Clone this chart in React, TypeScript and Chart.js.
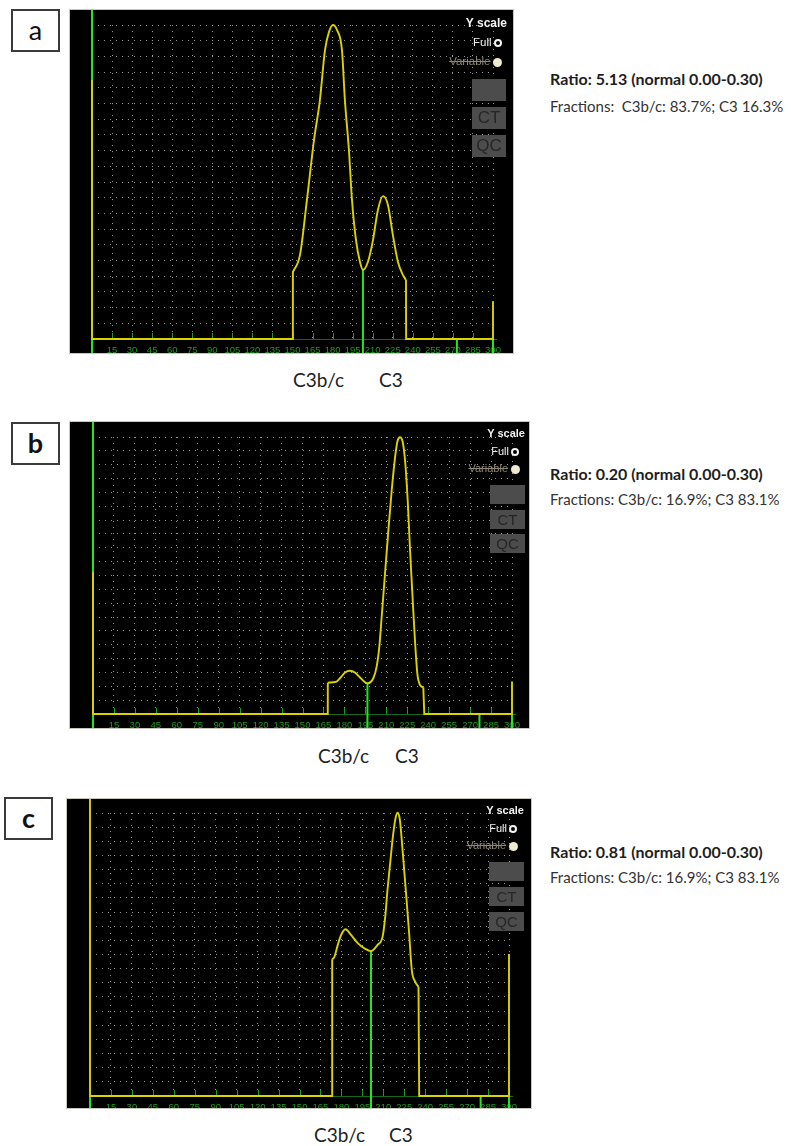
import React, { useEffect, useRef } from "react";
import { Chart, registerables } from "chart.js";

Chart.register(...registerables);

// ---------------- data ----------------
const xTickValues = [0, 15, 30, 45, 60, 75, 90, 105, 120, 135, 150, 165, 180, 195, 210, 225, 240, 255, 270, 285, 300];
const yGridValues = [0, 5, 10, 15, 20, 25, 30, 35, 40, 45, 50, 55, 60, 65, 70, 75, 80, 85, 90, 95, 100];

// panel a — smooth peak section and straight frame (spikes, baseline, steps; null = break)
const peakAX = [150.3, 155.6, 160.8, 166.1, 170.5, 174.3, 177.3, 180.3, 183.3, 187.0, 189.2, 192.2, 194.5, 197.5, 200.5, 202.7, 206.4, 210.2, 213.9, 217.7, 221.4, 225.1, 228.9, 232.6, 234.9];
const peakAY = [21.3, 26.8, 44.3, 63.4, 76.1, 92.0, 97.8, 100, 98.4, 92.0, 76.1, 60.2, 44.3, 31.5, 24.5, 22.0, 24.5, 31.5, 41.1, 45.5, 42.7, 33.1, 24.5, 20.4, 18.8];
const frameAX = [0, 0, 150, 150.3, 234.9, 234.9, 235, 300, 300];
const frameAY = [82.5, 0, 0, 21.3, null, 18.8, 0, 0, 12];
const markerAX = [0, 202.7, 273, 300];
const markerATop = [110, 22.0, 0, 0];

// panel b
const peakBX = [168.1, 174.4, 177, 180.5, 184, 187.5, 191.2, 196.5, 200.7, 203.1, 205.0, 206.7, 209.1, 211.5, 213.9, 216.2, 217.9, 219.8, 221.7, 223.4, 225.3, 227.0, 228.9, 230.5, 232.2, 234.1, 236.5];
const peakBY = [11.3, 11.7, 13.0, 15.0, 15.6, 15.0, 13.2, 11.1, 12.9, 17.1, 24.3, 35.1, 50.8, 66.4, 80.9, 92.3, 98.3, 99.9, 98.3, 91.7, 77.3, 59.2, 41.2, 26.7, 14.7, 10.5, 9.6];
const frameBX = [0, 0, 168, 168.1, 236.5, 236.5, 237.2, 300, 300];
const frameBY = [51.3, 0, 0, 11.3, null, 9.6, 0, 0, 11.7];
const markerBX = [0, 196.5, 276.7, 300];
const markerBTop = [110, 11.1, 0, 0];

// panel c
const peakCX = [173.4, 175, 177.4, 179.8, 182.9, 186.9, 191.7, 196.4, 201.2, 205.9, 209.5, 211.4, 213, 214.9, 216.6, 218.5, 220.2, 221.9, 223.8, 226.1, 228.5, 230.4, 232.8, 235.2];
const peakCY = [48.3, 49.2, 53.4, 56.9, 58.9, 56.9, 54.0, 52.2, 51.2, 53.4, 56.3, 63.4, 72.8, 82.2, 90.5, 97.5, 100.1, 97.5, 86.9, 72.8, 57.5, 44.5, 40.4, 38.6];
const frameCX = [0, 0, 173.3, 173.4, 235.2, 235.2, 235.7, 300, 300];
const frameCY = [110, 0, 0, 48.3, null, 38.6, 0, 0, 50.2];
const markerCX = [0, 201.2, 279.7, 300];
const markerCTop = [0, 51.2, 0, 0];

const panelLetters = ["a", "b", "c"];
const ratioTexts = [
  "Ratio: 5.13 (normal 0.00-0.30)",
  "Ratio: 0.20 (normal 0.00-0.30)",
  "Ratio: 0.81 (normal 0.00-0.30)",
];
const fractionTexts = [
  "Fractions:  C3b/c: 83.7%; C3 16.3%",
  "Fractions: C3b/c: 16.9%; C3 83.1%",
  "Fractions: C3b/c: 16.9%; C3 83.1%",
];
const peakLabels = ["C3b/c", "C3"];
const legendTitle = "Y scale";
const legendFull = "Full";
const legendVariable = "Variable";
const buttonLabels = ["", "CT", "QC"];

// ---------------- styles ----------------
const YELLOW = "#d9d400";
const MARKER_GREEN = "#22e622";
const TICK_GREEN = "#1f9a1f";
const AXIS_GREEN = "#136b13";
const GRID = "rgba(175,175,175,0.85)";

type Layout = {
  box: { left: number; top: number; width: number; height: number };
  pad: { left: number; right: number; top: number; bottom: number };
  letterBox: { left: number; top: number; bold: boolean };
  legend: {
    titleRight: number; titleCy: number; titleSize: number;
    fullCy: number; varCy: number; circleRight: number; itemSize: number;
    btnRight: number; btnTops: number[]; btnW: number; btnH: number; btnFont: number;
  };
  ratioCy: number;
  fracCy: number;
  peakLabelX: number[];
  peakLabelCy: number;
};

const layouts: Layout[] = [
  {
    box: { left: 70, top: 10, width: 443, height: 343 },
    pad: { left: 22, right: 20, top: 15, bottom: 14 },
    letterBox: { left: 11, top: 9, bold: false },
    legend: { titleRight: 6, titleCy: 13, titleSize: 12, fullCy: 33, varCy: 52, circleRight: 15.5, itemSize: 11.5, btnRight: 7, btnTops: [69, 97, 125], btnW: 34, btnH: 22, btnFont: 17 },
    ratioCy: 79,
    fracCy: 106,
    peakLabelX: [293, 379],
    peakLabelCy: 380,
  },
  {
    box: { left: 70, top: 422, width: 459, height: 306 },
    pad: { left: 23, right: 17, top: 15, bottom: 14 },
    letterBox: { left: 11, top: 422, bold: true },
    legend: { titleRight: 4, titleCy: 12, titleSize: 11, fullCy: 30, varCy: 47, circleRight: 14, itemSize: 11, btnRight: 4, btnTops: [63, 88, 112], btnW: 35, btnH: 19, btnFont: 15 },
    ratioCy: 474,
    fracCy: 499,
    peakLabelX: [318, 395],
    peakLabelCy: 756,
  },
  {
    box: { left: 67, top: 799, width: 464, height: 309 },
    pad: { left: 23, right: 22, top: 14, bottom: 12 },
    letterBox: { left: 4, top: 797, bold: true },
    legend: { titleRight: 7, titleCy: 12, titleSize: 11, fullCy: 30, varCy: 47, circleRight: 18, itemSize: 11, btnRight: 7, btnTops: [63, 88, 113], btnW: 35, btnH: 19, btnFont: 15 },
    ratioCy: 852,
    fracCy: 877,
    peakLabelX: [314, 389],
    peakLabelCy: 1135,
  },
];

const curves = [
  { px: peakAX, py: peakAY, fx: frameAX, fy: frameAY, mx: markerAX, mt: markerATop },
  { px: peakBX, py: peakBY, fx: frameBX, fy: frameBY, mx: markerBX, mt: markerBTop },
  { px: peakCX, py: peakCY, fx: frameCX, fy: frameCY, mx: markerCX, mt: markerCTop },
];

const epPlugin = {
  id: "ep",
  beforeDatasetsDraw(chart: any, _args: any, opts: any) {
    const { ctx } = chart;
    const xs = chart.scales.x;
    const ys = chart.scales.y;
    const base = Math.round(ys.getPixelForValue(0));
    ctx.save();
    // green axis line
    ctx.strokeStyle = AXIS_GREEN;
    ctx.lineWidth = 1;
    ctx.beginPath();
    ctx.moveTo(xs.getPixelForValue(0), base + 0.5);
    ctx.lineTo(xs.getPixelForValue(303), base + 0.5);
    ctx.stroke();
    // small tick marks above the axis
    ctx.strokeStyle = TICK_GREEN;
    ctx.beginPath();
    for (const v of xTickValues) {
      if (v === 0) continue;
      const px = Math.round(xs.getPixelForValue(v)) + 0.5;
      ctx.moveTo(px, base);
      ctx.lineTo(px, base - 6);
    }
    ctx.stroke();
    // marker lines
    ctx.strokeStyle = MARKER_GREEN;
    ctx.lineWidth = 2;
    (opts.markerX || []).forEach((mx: number, i: number) => {
      const px = xs.getPixelForValue(mx);
      ctx.beginPath();
      ctx.moveTo(px, chart.height);
      ctx.lineTo(px, ys.getPixelForValue(opts.markerTop[i]));
      ctx.stroke();
    });
    ctx.restore();
  },
};

function Panel({ idx }: { idx: number }) {
  const ref = useRef<HTMLCanvasElement | null>(null);
  const L = layouts[idx];
  const C = curves[idx];
  useEffect(() => {
    if (!ref.current) return;
    const gridColor = (c: any) => (c.tick && c.tick.value === 0 ? "rgba(0,0,0,0)" : GRID);
    const lineBase = {
      showLine: true,
      borderColor: YELLOW,
      borderWidth: 1.9,
      pointRadius: 0,
      fill: false,
      spanGaps: false,
      clip: false,
    };
    const chart = new Chart(ref.current, {
      type: "scatter",
      data: {
        datasets: [
          {
            ...lineBase,
            data: C.fx.map((x, i) => ({ x, y: C.fy[i] })),
            tension: 0,
          } as any,
          {
            ...lineBase,
            data: C.px.map((x, i) => ({ x, y: C.py[i] })),
            cubicInterpolationMode: "monotone",
          } as any,
        ],
      },
      options: {
        responsive: false,
        animation: false,
        events: [],
        layout: { padding: { left: L.pad.left, right: L.pad.right, top: L.pad.top, bottom: 0 } },
        plugins: {
          legend: { display: false },
          tooltip: { enabled: false },
          ep: { markerX: C.mx, markerTop: C.mt },
        } as any,
        scales: {
          x: {
            type: "linear",
            min: 0,
            max: 300,
            afterBuildTicks: (s: any) => {
              s.ticks = xTickValues.map((v) => ({ value: v }));
            },
            afterFit: (s: any) => {
              s.height = L.pad.bottom;
            },
            grid: { color: gridColor, lineWidth: 1, drawTicks: false },
            border: { display: false, dash: [1, 5] },
            ticks: {
              autoSkip: false,
              maxRotation: 0,
              minRotation: 0,
              padding: 6,
              color: TICK_GREEN,
              font: { family: "Liberation Sans", size: 9.5 },
              callback: (v: any) => (Number(v) === 0 ? "" : String(v)),
            },
          },
          y: {
            type: "linear",
            min: 0,
            max: 100,
            afterBuildTicks: (s: any) => {
              s.ticks = yGridValues.map((v) => ({ value: v }));
            },
            afterFit: (s: any) => {
              s.width = 0;
            },
            grid: { color: gridColor, lineWidth: 1, drawTicks: false },
            border: { display: false, dash: [1, 5] },
            ticks: { display: false },
          },
        },
      } as any,
      plugins: [epPlugin as any],
    });
    return () => chart.destroy();
  }, [idx]);

  const lg = L.legend;
  const txt = (
    content: string,
    pos: { left?: number; right?: number },
    cy: number,
    size: number,
    style: React.CSSProperties = {}
  ) => (
    <div
      style={{
        position: "absolute",
        ...pos,
        top: cy - size * 0.6,
        height: size * 1.2,
        lineHeight: `${size * 1.2}px`,
        fontSize: size,
        whiteSpace: "pre",
        ...style,
      }}
    >
      {content}
    </div>
  );

  return (
    <>
      {/* letter box */}
      <div
        style={{
          position: "absolute",
          left: L.letterBox.left,
          top: L.letterBox.top,
          width: 49,
          height: 43,
          boxSizing: "border-box",
          border: "2px solid #3a3a3a",
          background: "#fff",
          display: "flex",
          alignItems: "center",
          justifyContent: "center",
          fontFamily: "Lato, 'Open Sans', sans-serif",
          fontSize: 27,
          fontWeight: L.letterBox.bold ? 700 : 400,
          color: "#111",
          paddingBottom: 3,
        }}
      >
        {panelLetters[idx]}
      </div>

      {/* black screen */}
      <div
        style={{
          position: "absolute",
          left: L.box.left,
          top: L.box.top,
          width: L.box.width,
          height: L.box.height,
          background: "#000",
          overflow: "hidden",
          boxShadow: "0 0 0 1px #c9c6bd",
        }}
      >
        <canvas ref={ref} width={L.box.width} height={L.box.height} style={{ display: "block" }} />
        <div style={{ position: "absolute", inset: 0, fontFamily: "'Liberation Sans', Arial, sans-serif" }}>
          {txt(legendTitle, { right: lg.titleRight }, lg.titleCy, lg.titleSize, { color: "#f2f2f2", fontWeight: 700 })}
          {txt(legendFull, { right: lg.circleRight + 6 }, lg.fullCy, lg.itemSize, { color: "#f2f2f2" })}
          <div
            style={{
              position: "absolute",
              right: lg.circleRight - 4,
              top: lg.fullCy - 4,
              width: 8,
              height: 8,
              boxSizing: "border-box",
              borderRadius: "50%",
              border: "2px solid #f4f4f4",
            }}
          />
          {txt(legendVariable, { right: lg.circleRight + 7 }, lg.varCy, lg.itemSize, {
            color: "#8e8776",
            textDecoration: "line-through",
          })}
          <div
            style={{
              position: "absolute",
              right: lg.circleRight - 4.5,
              top: lg.varCy - 4.5,
              width: 9,
              height: 9,
              borderRadius: "50%",
              background: "#efe8d2",
            }}
          />
          {buttonLabels.map((b, i) => (
            <div
              key={i}
              style={{
                position: "absolute",
                right: lg.btnRight,
                top: lg.btnTops[i],
                width: lg.btnW,
                height: lg.btnH,
                background: "#4c4c4c",
                color: "#262626",
                fontSize: lg.btnFont,
                lineHeight: `${lg.btnH}px`,
                textAlign: "center",
              }}
            >
              {b}
            </div>
          ))}
        </div>
      </div>

      {/* right-hand texts */}
      {txt(ratioTexts[idx], { left: 550 }, L.ratioCy, 16, {
        fontFamily: "Lato, sans-serif",
        fontWeight: 700,
        color: "#1e1e1e",
      })}
      {txt(fractionTexts[idx], { left: 550 }, L.fracCy, 15, {
        fontFamily: "Lato, sans-serif",
        color: "#333",
      })}

      {/* peak labels */}
      {peakLabels.map((p, i) => (
        <React.Fragment key={i}>
          {txt(p, { left: L.peakLabelX[i] }, L.peakLabelCy, 19, { fontFamily: "Lato, sans-serif", color: "#222" })}
        </React.Fragment>
      ))}
    </>
  );
}

export default function App() {
  return (
    <div style={{ position: "absolute", left: 0, top: 0, width: 791, height: 1146, background: "#fff", overflow: "hidden" }}>
      {[0, 1, 2].map((i) => (
        <Panel key={i} idx={i} />
      ))}
    </div>
  );
}
